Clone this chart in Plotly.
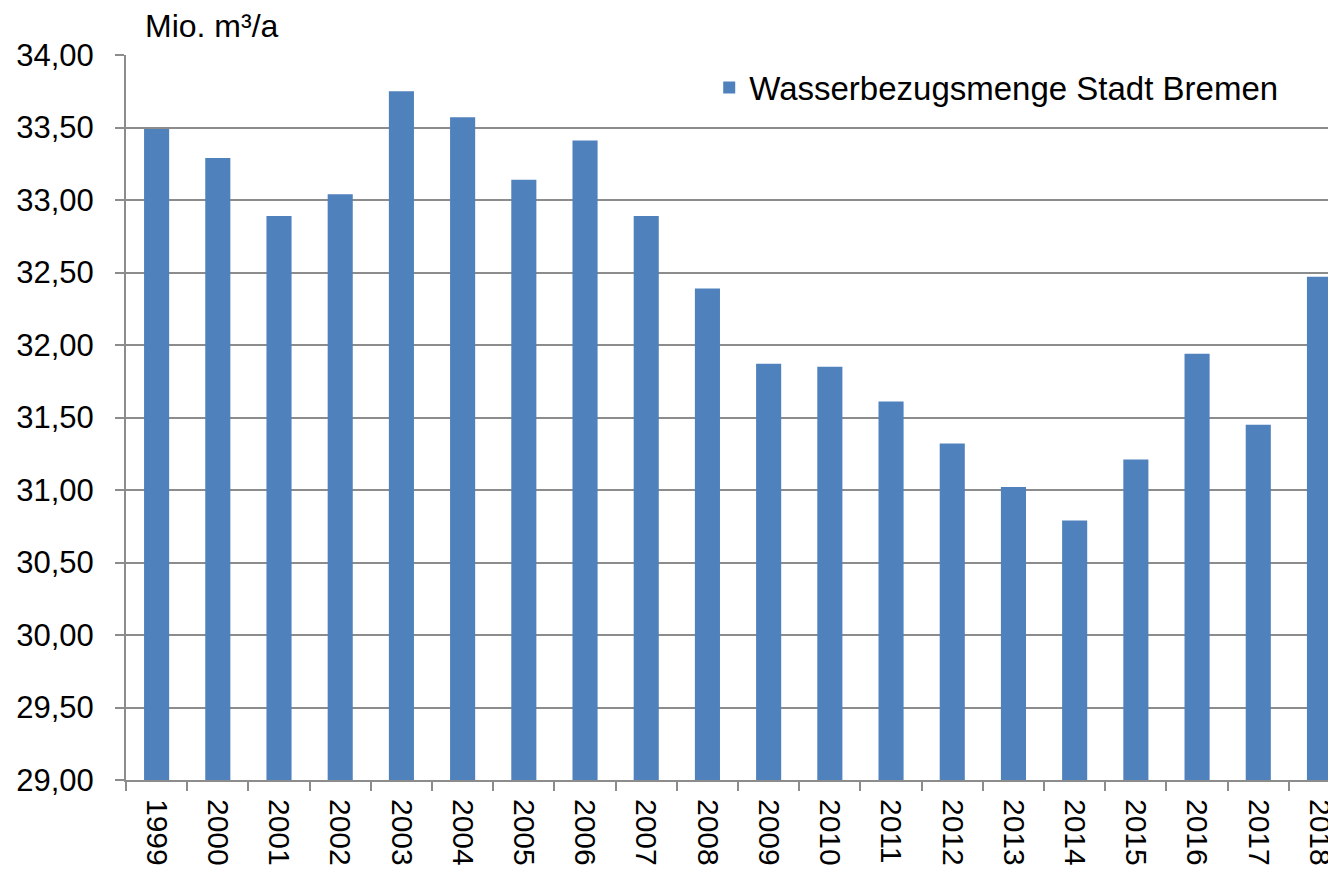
import plotly.graph_objects as go

years = ["1999", "2000", "2001", "2002", "2003", "2004", "2005", "2006", "2007", "2008",
         "2009", "2010", "2011", "2012", "2013", "2014", "2015", "2016", "2017", "2018"]
values = [33.49, 33.29, 32.89, 33.04, 33.75, 33.57, 33.14, 33.41, 32.89, 32.39,
          31.87, 31.85, 31.61, 31.32, 31.02, 30.79, 31.21, 31.94, 31.45, 32.47]
series_name = "Wasserbezugsmenge Stadt Bremen"
y_title = "Mio. m³/a"

FONT = "Liberation Sans, Arial, sans-serif"
BAR = "#4f81bd"
GRID = "#8c8c8c"

fig = go.Figure()
fig.add_trace(go.Bar(x=years, y=values, name=series_name, marker_color=BAR,
                     marker_line_width=0, width=0.41))

fig.update_layout(
    width=1328, height=857,
    margin=dict(l=118, r=0, t=47, b=85),
    paper_bgcolor="white", plot_bgcolor="white",
    separators=",.",
    showlegend=True,
    font=dict(family=FONT, color="#000000"),
    legend=dict(x=0.482, y=0.955, xanchor="left", yanchor="middle",
                font=dict(size=33, family=FONT), bgcolor="rgba(0,0,0,0)",
                itemwidth=30),
    xaxis=dict(type="category", range=[-0.5, 19.27], tickson="boundaries",
               ticks="outside", ticklen=9, tickwidth=2, tickcolor=GRID,
               showline=True, linecolor=GRID, linewidth=2, showgrid=False,
               tickangle=90, ticklabelstandoff=11, tickfont=dict(size=30, family=FONT)),
    yaxis=dict(range=[29, 34], dtick=0.5, tick0=29, tickformat=".2f",
               ticks="outside", ticklen=9, tickwidth=2, tickcolor=GRID,
               showline=True, linecolor=GRID, linewidth=2,
               showgrid=True, gridcolor=GRID, gridwidth=2,
               ticklabelstandoff=15,
               zeroline=False, tickfont=dict(size=31, family=FONT)),
    annotations=[dict(text=y_title, xref="paper", yref="paper", x=0.014, y=1.04,
                      xanchor="left", yanchor="middle", showarrow=False,
                      font=dict(size=32, family=FONT))],
)

fig.write_html("out.html")
